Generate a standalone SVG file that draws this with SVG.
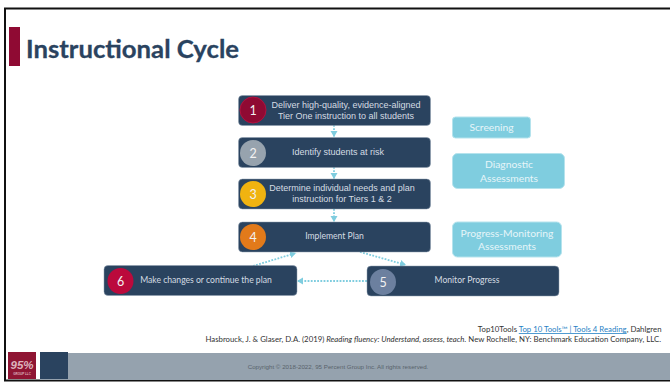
<svg xmlns="http://www.w3.org/2000/svg" width="670" height="382" viewBox="0 0 670 382">
<style>
.box{fill:#2a435f;stroke:#8d9dae;stroke-width:.5}
.side{fill:#7fcddf;stroke:#b5e3ed;stroke-width:1}
.t{font-family:"Liberation Sans",Arial,sans-serif;font-size:9px;fill:#d5dce3;text-anchor:middle}
.l{font-family:Lato,"Open Sans",sans-serif;font-size:8.600px;fill:#d5dce3;text-anchor:middle}
.n{font-family:Lato,"Open Sans",sans-serif;font-size:12.500px;fill:#f2f2f2;text-anchor:middle}
.s{font-family:Lato,"Open Sans",sans-serif;font-size:10.300px;fill:#e6f5f9;text-anchor:middle}
.ref{font-family:Lato,"Open Sans",sans-serif;font-size:7.800px;fill:#333;text-anchor:end}
.c{fill:none;stroke:#7fcddf;stroke-width:1.800;stroke-dasharray:1.800 1.400;marker-end:url(#a)}
</style>
<defs><marker id="a" markerUnits="userSpaceOnUse" markerWidth="8" markerHeight="8" refX="6" refY="4" orient="auto"><path d="M0 .5L6 4L0 7.500Z" fill="#7fcddf"/></marker></defs>
<rect width="670" height="382" fill="#fff"/>
<rect x="5" y="8.500" width="670" height="372" fill="none" stroke="#111" stroke-width="2"/>
<rect x="9" y="27" width="11" height="39" fill="#8f0a33"/>
<text x="26" y="58" font-family="Lato,'Open Sans',sans-serif" font-weight="700" font-size="25px" fill="#2a435f" stroke="#2a435f" stroke-width=".3" textLength="213" lengthAdjust="spacingAndGlyphs">Instructional Cycle</text>
<g id="connectors">
<path class="c" d="M334 125V137"/>
<path class="c" d="M334 167V179"/>
<path class="c" d="M334 209V222"/>
<path class="c" d="M360 252L406 265"/>
<path class="c" d="M367 281H297"/>
<path class="c" d="M253 266L296 253"/>
</g>
<g id="node-1"><rect class="box" x="238.500" y="95.500" width="192" height="30" rx="4"/><circle cx="253" cy="110" r="13" fill="#8f0a33" stroke="#b0123f"/><text class="n" x="253" y="114.500">1</text><text class="t" x="346" y="108">Deliver high-quality, evidence-aligned</text><text class="t" x="346" y="119">Tier One instruction to all students</text></g>
<g id="node-2"><rect class="box" x="238.500" y="137.500" width="192" height="30" rx="4"/><circle cx="253" cy="153" r="13" fill="#97a3ae"/><text class="n" x="253" y="157.500">2</text><text class="t" x="338" y="155">Identify students at risk</text></g>
<g id="node-3"><rect class="box" x="238.500" y="179" width="192" height="30" rx="4"/><circle cx="253" cy="194" r="13" fill="#f0b310"/><text class="n" x="253" y="198.500">3</text><text class="t" x="342" y="191">Determine individual needs and plan</text><text class="t" x="342" y="202">instruction for Tiers 1 &amp; 2</text></g>
<g id="node-4"><rect class="box" x="238.500" y="222" width="192" height="30" rx="4"/><circle cx="253" cy="237" r="13" fill="#e27a1a"/><text class="n" x="253" y="241.500">4</text><text class="l" x="334.500" y="239">Implement Plan</text></g>
<g id="node-5"><rect class="box" x="367" y="266" width="192" height="30" rx="4"/><circle cx="383" cy="282" r="13" fill="#6c809f"/><text class="n" x="383" y="286.500">5</text><text class="l" x="467" y="283">Monitor Progress</text></g>
<g id="node-6"><rect class="box" x="104" y="265.500" width="193" height="30" rx="4"/><circle cx="120.500" cy="281" r="13" fill="#bb0a3c"/><text class="n" x="120.500" y="285.500">6</text><text class="l" x="206" y="283">Make changes or continue the plan</text></g>
<g id="screening"><rect class="side" x="452.500" y="117" width="78" height="21" rx="3"/><text class="s" x="491.500" y="131">Screening</text></g>
<g id="diagnostic"><rect class="side" x="452.500" y="153.500" width="112" height="35" rx="5"/><text class="s" x="509" y="168">Diagnostic</text><text class="s" x="509" y="182">Assessments</text></g>
<g id="progress"><rect class="side" x="452.500" y="222" width="109" height="35" rx="5"/><text class="s" x="507" y="237">Progress-Monitoring</text><text class="s" x="507" y="250">Assessments</text></g>
<text class="ref" x="661.500" y="332">Top10Tools <tspan fill="#1f7fc4" text-decoration="underline">Top 10 Tools™ | Tools 4 Reading</tspan>, Dahlgren</text>
<text class="ref" x="661" y="342">Hasbrouck, J. &amp; Glaser, D.A. (2019) <tspan font-style="italic">Reading fluency: Understand, assess, teach.</tspan> New Rochelle, NY:  Benchmark Education Company, LLC.</text>
<rect x="40" y="353" width="630" height="27" fill="#95a2ae"/>
<rect x="40" y="352" width="28" height="27" fill="#2a435f"/>
<rect x="8" y="352" width="28" height="27" fill="#8f1533"/>
<text x="22" y="369" font-family="'Liberation Sans',sans-serif" font-style="italic" font-weight="700" font-size="11.500px" fill="#dcb4bd" text-anchor="middle">95%</text>
<text x="22" y="374.500" font-family="'Liberation Sans',sans-serif" font-weight="700" font-size="3px" fill="#dcb4bd" text-anchor="middle">GROUP LLC</text>
<text x="338" y="369" font-family="'Liberation Sans',Arial,sans-serif" font-size="6.200px" fill="#59626c" text-anchor="middle">Copyright © 2018-2022, 95 Percent Group Inc. All rights reserved.</text>
</svg>
